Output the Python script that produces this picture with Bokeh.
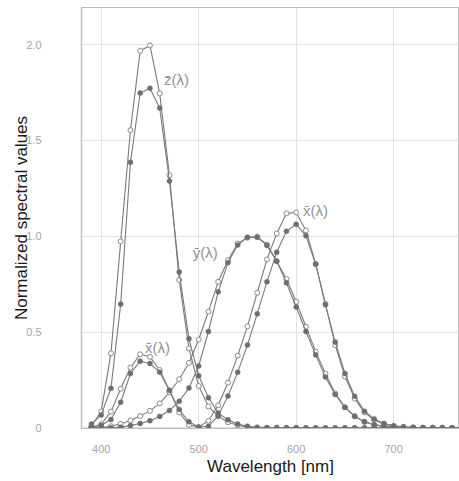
from bokeh.plotting import figure
from bokeh.models import Range1d, FixedTicker, Label, ColumnDataSource
from bokeh.embed import file_html
from bokeh.resources import INLINE

wavelength = [390, 400, 410, 420, 430, 440, 450, 460, 470, 480, 490, 500, 510, 520,
              530, 540, 550, 560, 570, 580, 590, 600, 610, 620, 630, 640, 650, 660,
              670, 680, 690, 700, 710, 720, 730, 740, 750, 760, 770, 780]

# CIE 1931 2-degree observer (filled dots)
x2 = [0.004, 0.014, 0.044, 0.134, 0.284, 0.348, 0.336, 0.291, 0.195, 0.096, 0.032,
      0.005, 0.009, 0.063, 0.166, 0.290, 0.433, 0.595, 0.762, 0.916, 1.026, 1.062,
      1.003, 0.854, 0.642, 0.448, 0.284, 0.165, 0.087, 0.047, 0.023, 0.011, 0.006,
      0.003, 0.001, 0.001, 0.0, 0.0, 0.0, 0.0]
y2 = [0.0, 0.0, 0.001, 0.004, 0.012, 0.023, 0.038, 0.060, 0.091, 0.139, 0.208,
      0.323, 0.503, 0.710, 0.862, 0.954, 0.995, 0.995, 0.952, 0.870, 0.757, 0.631,
      0.503, 0.381, 0.265, 0.175, 0.107, 0.061, 0.032, 0.017, 0.008, 0.004, 0.002,
      0.001, 0.001, 0.0, 0.0, 0.0, 0.0, 0.0]
z2 = [0.020, 0.068, 0.207, 0.646, 1.386, 1.747, 1.772, 1.669, 1.288, 0.813, 0.465,
      0.272, 0.158, 0.078, 0.042, 0.020, 0.009, 0.004, 0.002, 0.002, 0.001, 0.001,
      0.0, 0.0, 0.0, 0.0, 0.0, 0.0, 0.0, 0.0, 0.0, 0.0, 0.0, 0.0, 0.0, 0.0, 0.0,
      0.0, 0.0, 0.0]

# CIE 1964 10-degree observer (open circles)
x10 = [0.002, 0.019, 0.085, 0.204, 0.315, 0.384, 0.371, 0.302, 0.196, 0.081, 0.016,
       0.004, 0.037, 0.118, 0.236, 0.377, 0.530, 0.705, 0.879, 1.014, 1.119, 1.124,
       1.030, 0.856, 0.647, 0.432, 0.268, 0.153, 0.081, 0.041, 0.020, 0.010, 0.005,
       0.002, 0.001, 0.001, 0.0, 0.0, 0.0, 0.0]
y10 = [0.0, 0.002, 0.009, 0.021, 0.039, 0.062, 0.089, 0.128, 0.185, 0.254, 0.339,
       0.461, 0.607, 0.762, 0.875, 0.962, 0.992, 0.997, 0.956, 0.869, 0.777, 0.658,
       0.528, 0.398, 0.283, 0.180, 0.108, 0.060, 0.032, 0.016, 0.008, 0.004, 0.002,
       0.001, 0.0, 0.0, 0.0, 0.0, 0.0, 0.0]
z10 = [0.010, 0.086, 0.389, 0.973, 1.553, 1.967, 1.995, 1.745, 1.318, 0.772, 0.415,
       0.219, 0.112, 0.061, 0.030, 0.014, 0.004, 0.0, 0.0, 0.0, 0.0, 0.0, 0.0, 0.0,
       0.0, 0.0, 0.0, 0.0, 0.0, 0.0, 0.0, 0.0, 0.0, 0.0, 0.0, 0.0, 0.0, 0.0, 0.0, 0.0]

y_ticks = [0, 0.5, 1.0, 1.5, 2.0]
y_tick_labels = ["0", "0.5", "1.0", "1.5", "2.0"]
x_ticks = [400, 500, 600, 700]

curve_labels = ["z\u0304(\u03bb)", "y\u0304(\u03bb)", "x\u0304(\u03bb)", "x\u0304(\u03bb)"]
label_x = [464.5, 494, 607, 445]
label_y = [1.815, 0.915, 1.135, 0.42]

p = figure(width=459, height=478, output_backend="svg", toolbar_location=None,
           x_range=Range1d(379.8, 767.5), y_range=Range1d(-0.003, 2.193),
           min_border_left=81, min_border_right=0, min_border_top=7,
           min_border_bottom=50)
p.background_fill_color = "white"
p.border_fill_color = "white"
p.outline_line_color = "#bdbdbd"
p.outline_line_width = 1.2

p.xgrid.ticker = FixedTicker(ticks=x_ticks)
p.ygrid.ticker = FixedTicker(ticks=y_ticks)
p.grid.grid_line_color = "#e2e2e2"
p.grid.grid_line_width = 1

p.xaxis.ticker = FixedTicker(ticks=x_ticks)
p.yaxis.ticker = FixedTicker(ticks=y_ticks)
p.yaxis.major_label_overrides = {t: l for t, l in zip(y_ticks, y_tick_labels)}
for ax in (p.xaxis, p.yaxis):
    ax.axis_line_color = "#bdbdbd"
    ax.axis_line_width = 1.2
    ax.major_tick_line_color = None
    ax.minor_tick_line_color = None
    ax.major_label_text_color = "#a5a5a5"
    ax.major_label_text_font = "Liberation Sans"
    ax.major_label_text_font_size = "11px"
    ax.axis_label_text_font = "Liberation Sans"
    ax.axis_label_text_font_size = "17px"
    ax.axis_label_text_font_style = "normal"
    ax.axis_label_text_color = "#1a1a1a"
p.xaxis.axis_label = "Wavelength [nm]"
p.yaxis.axis_label = "Normalized spectral values"
p.xaxis.major_label_standoff = 10
p.xaxis.axis_label_standoff = 1
p.yaxis.major_label_standoff = 34
p.yaxis.axis_label_standoff = -8

src = ColumnDataSource(dict(wl=wavelength, x2=x2, y2=y2, z2=z2,
                            x10=x10, y10=y10, z10=z10))

line_col = "#7a7a7a"
for col in ("x10", "y10", "z10"):
    p.line("wl", col, source=src, line_color=line_col, line_width=1.1)
    p.scatter("wl", col, source=src, size=5, marker="circle",
              fill_color="white", line_color="#8a8a8a", line_width=1)
for col in ("x2", "y2", "z2"):
    p.line("wl", col, source=src, line_color=line_col, line_width=1.1)
    p.scatter("wl", col, source=src, size=5, marker="circle",
              fill_color="#6e6e6e", line_color="#6e6e6e", line_width=0.5)

for t, lx, ly in zip(curve_labels, label_x, label_y):
    p.add_layout(Label(x=lx, y=ly, text=t, text_font="Liberation Sans",
                       text_font_size="15px", text_color="#939393",
                       text_baseline="middle", text_align="left"))

open("out.html", "w").write(file_html(p, INLINE))
